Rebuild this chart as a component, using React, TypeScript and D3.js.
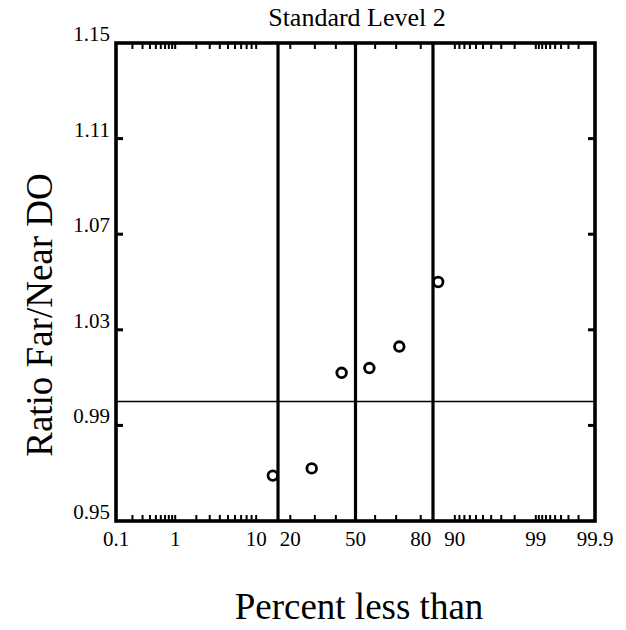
import React from "react";
import * as d3 from "d3";

const percents = [14.3, 28.6, 42.9, 57.1, 71.4, 85.7];
const ratios = [0.969, 0.972, 1.012, 1.014, 1.023, 1.05];
const refPercents = [15.87, 50, 84.13];
const refRatio = 1.0;
const xTickLabels = [0.1, 1, 10, 20, 50, 80, 90, 99, 99.9];
const minorTicks = [
  0.2, 0.3, 0.4, 0.5, 0.6, 0.7, 0.8, 0.9,
  1, 2, 3, 4, 5, 6, 7, 8, 9, 10,
  20, 30, 40, 60, 70, 80,
  90, 91, 92, 93, 94, 95, 96, 97, 98, 99,
  99.1, 99.2, 99.3, 99.4, 99.5, 99.6, 99.7, 99.8,
];
const yTicks = [0.95, 0.99, 1.03, 1.07, 1.11, 1.15];

// inverse standard normal CDF (Acklam)
function probit(p: number): number {
  const a = [-39.69683028665376, 220.9460984245205, -275.9285104469687, 138.357751867269, -30.66479806614716, 2.506628277459239];
  const b = [-54.47609879822406, 161.5858368580409, -155.6989798598866, 66.80131188771972, -13.28068155288572];
  const c = [-0.007784894002430293, -0.3223964580411365, -2.400758277161838, -2.549732539343734, 4.374664141464968, 2.938163982698783];
  const d = [0.007784695709041462, 0.3224671290700398, 2.445134137142996, 3.754408661907416];
  const pl = 0.02425;
  let q, r;
  if (p < pl) {
    q = Math.sqrt(-2 * Math.log(p));
    return (((((c[0] * q + c[1]) * q + c[2]) * q + c[3]) * q + c[4]) * q + c[5]) / ((((d[0] * q + d[1]) * q + d[2]) * q + d[3]) * q + 1);
  }
  if (p > 1 - pl) {
    q = Math.sqrt(-2 * Math.log(1 - p));
    return -(((((c[0] * q + c[1]) * q + c[2]) * q + c[3]) * q + c[4]) * q + c[5]) / ((((d[0] * q + d[1]) * q + d[2]) * q + d[3]) * q + 1);
  }
  q = p - 0.5;
  r = q * q;
  return ((((((a[0] * r + a[1]) * r + a[2]) * r + a[3]) * r + a[4]) * r + a[5]) * q) / (((((b[0] * r + b[1]) * r + b[2]) * r + b[3]) * r + b[4]) * r + 1);
}

const L = 116, R = 595, T = 43, B = 521;
const zScale = d3.scaleLinear().domain([probit(0.001), probit(0.999)]).range([L, R]);
const xp = (pct: number) => zScale(probit(pct / 100));
const y = d3.scaleLinear().domain([0.95, 1.15]).range([B, T]);

const font = "Liberation Serif, Tinos, Times New Roman, DejaVu Serif, serif";

export default function App() {
  return (
    <svg width={626} height={630} style={{ position: "absolute", left: 0, top: 0, background: "#fff" }}>
      <rect width={626} height={630} fill="#fff" />
      <g fontFamily={font} style={{ fontFamily: font }}>
        {/* title */}
        <text x={357} y={26} textAnchor="middle" fontSize={26}>Standard Level 2</text>
        {/* reference lines */}
        {refPercents.map((p, i) => (
          <line key={"v" + i} x1={xp(p)} x2={xp(p)} y1={T} y2={B} stroke="#000" strokeWidth={3.2} />
        ))}
        <line x1={L} x2={R} y1={y(refRatio)} y2={y(refRatio)} stroke="#000" strokeWidth={1.6} />
        {/* minor ticks top/bottom */}
        {minorTicks.map((p, i) => (
          <g key={"t" + i}>
            <line x1={xp(p)} x2={xp(p)} y1={B} y2={B - 6} stroke="#000" strokeWidth={2} />
            <line x1={xp(p)} x2={xp(p)} y1={T} y2={T + 6} stroke="#000" strokeWidth={2} />
          </g>
        ))}
        {/* y ticks */}
        {yTicks.slice(1, -1).map((v, i) => (
          <g key={"y" + i}>
            <line x1={L} x2={L + 7} y1={y(v)} y2={y(v)} stroke="#000" strokeWidth={3} />
            <line x1={R} x2={R - 7} y1={y(v)} y2={y(v)} stroke="#000" strokeWidth={3} />
          </g>
        ))}
        {/* frame */}
        <rect x={L} y={T} width={R - L} height={B - T} fill="none" stroke="#000" strokeWidth={3.6} />
        {/* y tick labels */}
        {yTicks.map((v, i) => (
          <text key={"yl" + i} x={110} y={y(v) - 2} textAnchor="end" fontSize={21}>
            {v.toFixed(2)}
          </text>
        ))}
        {/* x tick labels */}
        {xTickLabels.map((p, i) => (
          <text key={"xl" + i} x={xp(p)} y={546} textAnchor="middle" fontSize={21}>
            {String(p)}
          </text>
        ))}
        {/* points */}
        {percents.map((p, i) => (
          <circle key={"c" + i} cx={xp(p)} cy={y(ratios[i])} r={4.8} fill="none" stroke="#000" strokeWidth={2.8} />
        ))}
        {/* axis labels */}
        <text x={359} y={619} textAnchor="middle" fontSize={37}>Percent less than</text>
        <text transform="translate(52,315) rotate(-90)" textAnchor="middle" fontSize={37}>Ratio Far/Near DO</text>
      </g>
    </svg>
  );
}
